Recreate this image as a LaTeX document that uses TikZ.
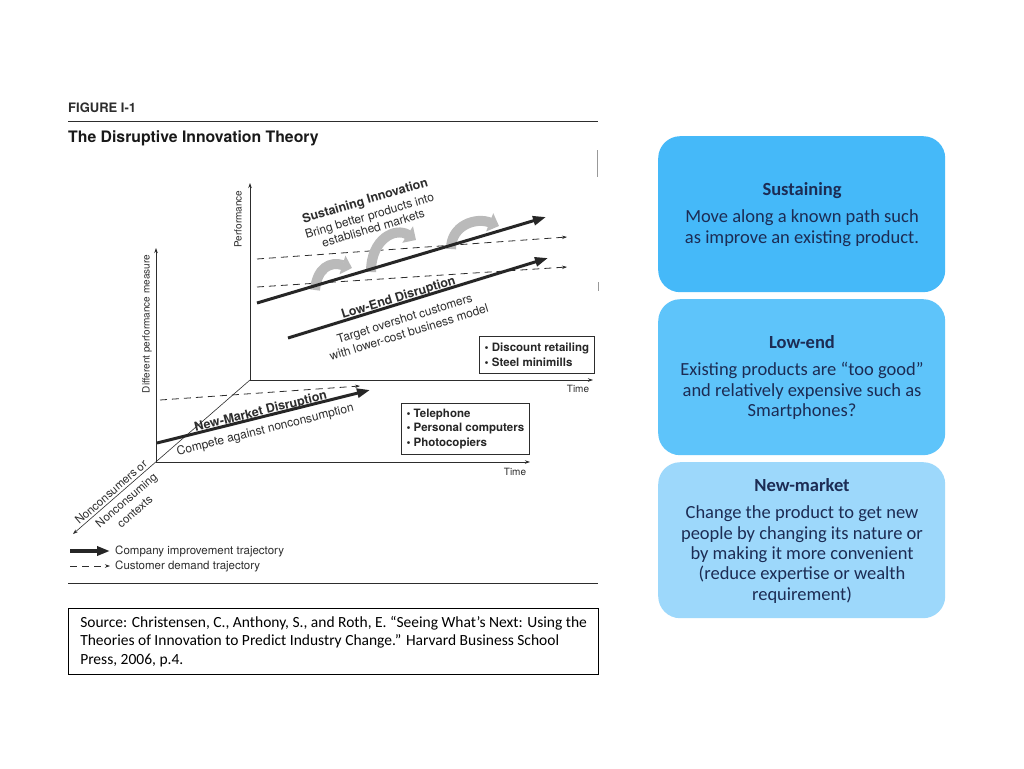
\documentclass[tikz,border=0pt]{standalone}
\usepackage{fontspec}
\setmainfont{TeX Gyre Heros}
\newfontfamily\cand{Carlito}
\usetikzlibrary{arrows.meta}
\definecolor{boxA}{RGB}{69,185,249}
\definecolor{boxB}{RGB}{94,196,250}
\definecolor{boxC}{RGB}{157,216,251}
\definecolor{navy}{RGB}{28,44,84}
\definecolor{ink}{RGB}{45,45,45}
\tikzset{
  axis/.style={draw=ink,line width=0.8pt,-{Stealth[length=5pt,width=3.5pt]}},
  thickarrow/.style={draw=black!85,line width=3pt,-{Triangle[length=13pt,width=9pt]}},
  dasharrow/.style={draw=ink,line width=0.8pt,dash pattern=on 7pt off 5pt,-{Stealth[length=5pt,width=3.5pt]}},
  curlarrow/.style={draw=black!27,line width=10pt,line cap=butt,-{Triangle[length=10pt,width=19pt]}},
  lbl/.style={text=ink,font=\fontsize{11.5}{13}\selectfont,inner sep=0pt,align=center},
  rlbl/.style={text=ink,font=\fontsize{12}{13}\selectfont,inner sep=0pt,align=center},
  slbl/.style={text=ink,font=\fontsize{10}{11}\selectfont,inner sep=0pt},
  itembox/.style={draw=ink,line width=0.8pt,align=left,inner xsep=5pt,inner ysep=0pt,anchor=north west,text=black!85,font=\bfseries\fontsize{11.5}{14.5}\selectfont},
  infobox/.style={rounded corners=22pt,minimum width=287pt,minimum height=156pt,anchor=north west,inner sep=0pt},
  infotext/.style={text=navy,font=\cand\fontsize{18.5}{20.3}\selectfont,align=center,inner sep=0pt,anchor=north},
}
\begin{document}
\begin{tikzpicture}[x=1pt,y=1pt]
\useasboundingbox[fill=white] (0,0) rectangle (1024,-768);
% header
\node[anchor=west,inner sep=0pt,text=ink,font=\bfseries\fontsize{13}{14}\selectfont] (fig) at (68,-108) {FIGURE I-1};
\coordinate (rl1) at (68,-121); \coordinate (rr1) at (598,-121);
\draw[ink,line width=1pt] (rl1) -- (rr1);
\node[anchor=west,inner sep=0pt,text=black!90,font=\bfseries\fontsize{15.8}{17}\selectfont] (title) at (68,-138) {The Disruptive Innovation Theory};
\coordinate (m1a) at (597,-150); \coordinate (m1b) at (597,-177);
\draw[black!40,line width=0.6pt] (m1a) -- (m1b);
\coordinate (m2a) at (598,-282); \coordinate (m2b) at (598,-291);
\draw[black!40,line width=0.6pt] (m2a) -- (m2b);
\coordinate (rl2) at (68,-583); \coordinate (rr2) at (598,-583);
\draw[ink,line width=1pt] (rl2) -- (rr2);
% axes
\coordinate (bc) at (250,-380);
\coordinate (btop) at (250,-183);
\coordinate (bright) at (593,-380);
\coordinate (fc) at (156,-462);
\coordinate (ftop) at (156,-248);
\coordinate (fright) at (530,-462);
\coordinate (dend) at (73,-534);
\draw[axis] (bc) -- (btop);
\draw[axis] (bc) -- (bright);
\draw[axis] (fc) -- (ftop);
\draw[axis] (fc) -- (fright);
\draw[axis,line width=0.6pt] (bc) -- (dend);
\node[slbl,rotate=90] (perf) at (238,-219) {Performance};
\node[slbl,rotate=90] (dperf) at (147,-324) {Different performance measure};
\node[slbl] (time1) at (578,-389) {Time};
\node[slbl] (time2) at (515,-472) {Time};
% dashed demand
\coordinate (d1a) at (257,-259); \coordinate (d1b) at (567,-237);
\coordinate (d2a) at (257,-287); \coordinate (d2b) at (567,-267);
\coordinate (d3a) at (160,-400); \coordinate (d3b) at (360,-386);
\draw[dasharrow] (d1a) -- (d1b);
\draw[dasharrow] (d2a) -- (d2b);
\draw[dasharrow] (d3a) -- (d3b);
% curl arrows
\coordinate (c1s) at (315,-290); \coordinate (c1e) at (352,-268);
\coordinate (c2s) at (371,-272); \coordinate (c2e) at (416,-240);
\coordinate (c3s) at (451,-249); \coordinate (c3e) at (499,-226);
\draw[curlarrow] (c1s) .. controls (317,-268) and (330,-261) .. (c1e);
\draw[curlarrow] (c2s) .. controls (371,-238) and (396,-227) .. (c2e);
\draw[curlarrow] (c3s) .. controls (451,-225) and (476,-217) .. (c3e);
% thick company arrows
\coordinate (s1a) at (257,-303); \coordinate (s1b) at (546,-217);
\coordinate (s2a) at (288,-338); \coordinate (s2b) at (548,-258);
\coordinate (s3a) at (157,-443); \coordinate (s3b) at (370,-390);
\draw[thickarrow] (s1a) -- (s1b);
\draw[thickarrow] (s2a) -- (s2b);
\draw[thickarrow] (s3a) -- (s3b);
% labels
\node[rlbl,rotate=16.5,font=\fontsize{12}{13.2}\selectfont] (sus) at (369,-214) {\textbf{\fontsize{12.5}{13}\selectfont Sustaining Innovation}\\[2.5pt]Bring better products into\\established markets};
\node[rlbl,rotate=17,font=\fontsize{12}{14.5}\selectfont] (low) at (403.5,-314.5) {\textbf{\fontsize{12.5}{13}\selectfont Low-End Disruption}\\[7.5pt]Target overshot customers\\with lower-cost business model};
\node[rlbl,rotate=14] (nm) at (263,-421) {\textbf{\fontsize{12.5}{13}\selectfont New-Market Disruption}\\[5.5pt]Compete against nonconsumption};
\node[lbl,rotate=41] (nc1) at (111,-492) {Nonconsumers or};
\node[lbl,rotate=41] (nc2) at (127,-501) {Nonconsuming};
\node[lbl,rotate=41] (nc3) at (135,-512) {contexts};
% item boxes
\node[itembox,minimum width=115pt,minimum height=37pt] (ib1) at (479,-336) {• Discount retailing\\• Steel minimills};
\node[itembox,minimum width=128pt,minimum height=51pt,inner xsep=4pt] (ib2) at (401,-403) {• Telephone\\• Personal computers\\• Photocopiers};
% legend
\coordinate (la) at (70,-551); \coordinate (lb) at (110,-551);
\coordinate (lc) at (70,-566); \coordinate (ld) at (110,-566);
\draw[thickarrow,line width=3.5pt] (la) -- (lb);
\draw[dasharrow] (lc) -- (ld);
\node[lbl,anchor=west] (leg1) at (115,-551) {Company improvement trajectory};
\node[lbl,anchor=west] (leg2) at (115,-566) {Customer demand trajectory};
% source box
\node[draw=black,line width=1.2pt,minimum width=530pt,minimum height=66pt,anchor=north west,inner xsep=11pt,inner ysep=0pt,align=left,font=\cand\fontsize{15.5}{18.6}\selectfont] (src) at (68,-608) {Source: Christensen, C., Anthony, S., and Roth, E. “Seeing What’s Next: Using the\\Theories of Innovation to Predict Industry Change.” Harvard Business School\\Press, 2006, p.4.};
% info boxes
\node[infobox,fill=boxA] (b1) at (658,-136) {};
\node[infobox,fill=boxB] (b2) at (658,-299) {};
\node[infobox,fill=boxC] (b3) at (658,-462) {};
\node[infotext] (t1) at (802,-182) {\textbf{Sustaining}\\[7.5pt]Move along a known path such\\as improve an existing product.};
\node[infotext] (t2) at (802,-335) {\textbf{Low-end}\\[7.5pt]Existing products are “too good”\\and relatively expensive such as\\Smartphones?};
\node[infotext] (t3) at (802,-478) {\textbf{New-market}\\[7.5pt]Change the product to get new\\people by changing its nature or\\by making it more convenient\\(reduce expertise or wealth\\requirement)};
\end{tikzpicture}
\end{document}
